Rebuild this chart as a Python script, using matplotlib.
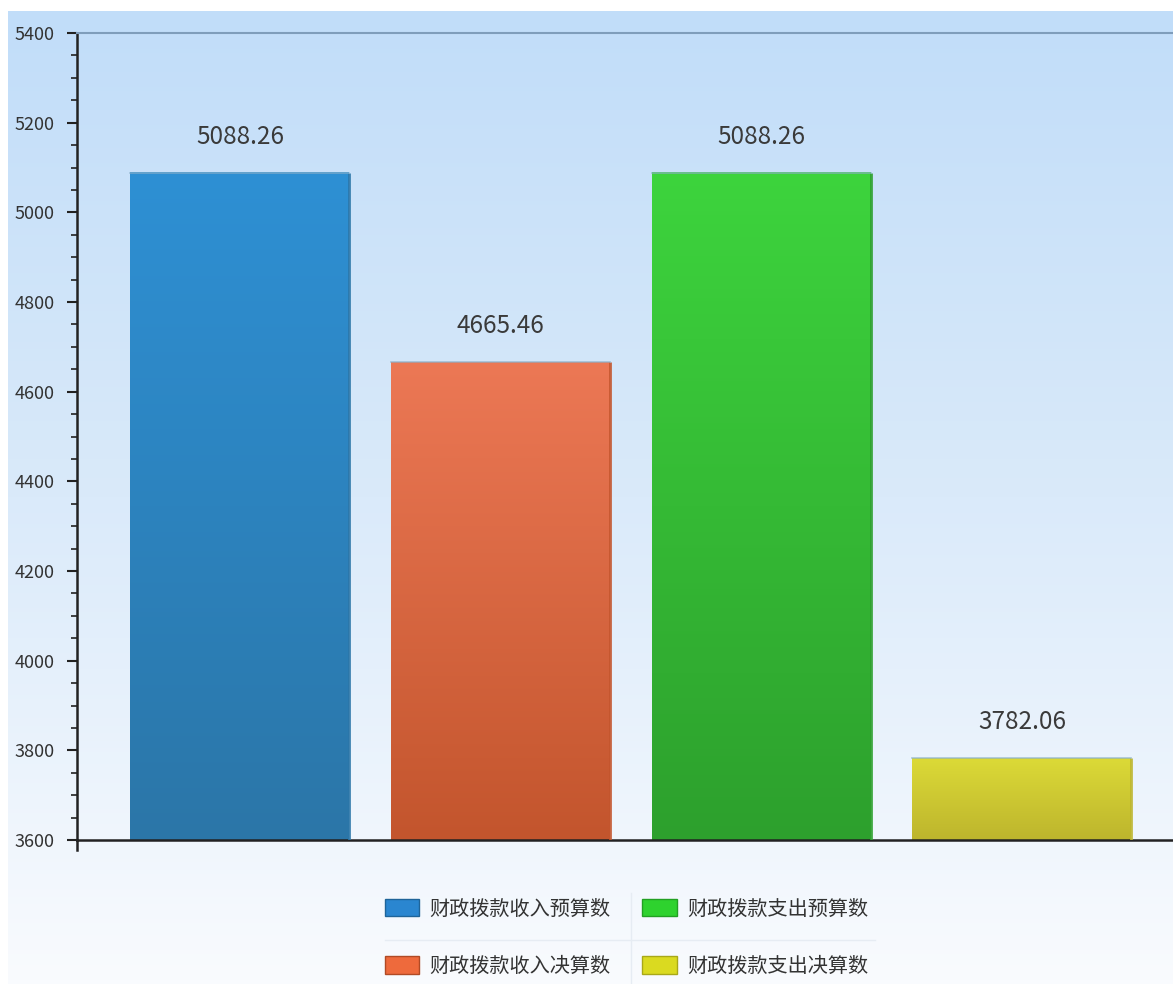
import numpy as np
import matplotlib
matplotlib.use('Agg')
import matplotlib.pyplot as plt
from matplotlib.colors import LinearSegmentedColormap
from matplotlib.patches import Patch
from matplotlib.lines import Line2D
from matplotlib.ticker import MultipleLocator

plt.rcParams['font.family'] = ['Noto Sans CJK SC', 'DejaVu Sans']

# data
labels = ['财政拨款收入预算数', '财政拨款收入决算数', '财政拨款支出预算数', '财政拨款支出决算数']
values = [5088.26, 4665.46, 5088.26, 3782.06]
value_text = ['5088.26', '4665.46', '5088.26', '3782.06']

# colours (top, bottom) for the bar gradients, and legend swatches
bar_top = ['#2E90D4', '#EC7855', '#3DD43D', '#DCDA37']
bar_bottom = ['#2B76A8', '#C3552D', '#2DA02D', '#BDB52D']
swatch = ['#2A86D0', '#EE6A3C', '#2ED22E', '#DADA20']
swatch_edge = ['#1F6499', '#B04A25', '#22A022', '#A8A818']

W, H = 1173, 984
fig = plt.figure(figsize=(W / 100, H / 100), dpi=100)
fig.patch.set_facecolor('white')

# background gradient panel
bg = fig.add_axes([8 / W, 0, 1 - 8 / W, 1 - 11 / H], zorder=0)
bg_cmap = LinearSegmentedColormap.from_list('bg', ['#C1DDF9', '#DAEAFA', '#F9FBFE'])
bg.imshow(np.linspace(0, 1, 256).reshape(-1, 1), aspect='auto', cmap=bg_cmap,
          extent=[0, 1, 0, 1], origin='upper')
bg.set_axis_off()

ax = fig.add_axes([77 / W, 1 - 840 / H, 1 - 77 / W, (840 - 33) / H], zorder=1)
ax.set_facecolor('none')

x = np.arange(len(values))
bars = ax.bar(x, np.array(values) - 3600, bottom=3600, width=0.84,
              color='none', edgecolor='none', zorder=2)

# gradient fill inside each bar
for i, b in enumerate(bars):
    x0, y0 = b.get_x(), b.get_y()
    w, h = b.get_width(), b.get_height()
    cm = LinearSegmentedColormap.from_list('b%d' % i, [bar_top[i], bar_bottom[i]])
    ax.imshow(np.linspace(0, 1, 256).reshape(-1, 1), aspect='auto', cmap=cm,
              extent=[x0, x0 + w, y0, y0 + h], origin='upper', zorder=2)
    # darker right edge and light top edge
    ax.plot([x0 + w, x0 + w], [y0, y0 + h], color=bar_bottom[i], lw=2,
            alpha=0.9, zorder=3, solid_capstyle='butt')
    ax.plot([x0, x0 + w], [y0 + h, y0 + h], color='#8AAFC8', lw=1.2,
            alpha=0.7, zorder=3)
    ax.annotate(value_text[i], (x0 + w / 2, y0 + h), xytext=(0, 26),
                textcoords='offset points', ha='center', va='center',
                fontsize=17.5, color='#3A3A3A', zorder=4)

ax.set_xlim(-0.625, 3.58)
ax.set_ylim(3600, 5400)
ax.set_aspect('auto')

ax.yaxis.set_major_locator(MultipleLocator(200))
ax.yaxis.set_minor_locator(MultipleLocator(50))
ax.tick_params(axis='y', which='major', length=7, width=1.5, color='#222222',
               labelsize=13, labelcolor='#333333', pad=9)
ax.tick_params(axis='y', which='minor', length=4, width=1.2, color='#222222')
ax.set_xticks([])

ax.spines['right'].set_visible(False)
ax.spines['left'].set_color('#222222')
ax.spines['left'].set_linewidth(1.8)
ax.spines['bottom'].set_color('#222222')
ax.spines['bottom'].set_linewidth(1.8)
ax.spines['top'].set_color('#7F9DBB')
ax.spines['top'].set_linewidth(1.5)

# left axis line continues a little below the baseline
ax.add_line(Line2D([0, 0], [-0.012, 0], transform=ax.transAxes, color='#222222',
                   lw=1.8, clip_on=False))

handles = [Patch(facecolor=swatch[i], edgecolor=swatch_edge[i], linewidth=1,
                 label=labels[i]) for i in range(len(labels))]
leg = fig.legend(handles=handles, ncol=2, loc='center',
                 bbox_to_anchor=(0.534, 0.047), frameon=False,
                 fontsize=14.5, labelspacing=1.8, columnspacing=1.6,
                 handlelength=1.7, handleheight=0.95, handletextpad=0.5)
for t in leg.get_texts():
    t.set_color('#333333')

# faint grid lines in the legend block
fig.add_artist(Line2D([385 / W, 875 / W], [1 - 940 / H, 1 - 940 / H],
                      color='#E6ECF3', lw=1))
fig.add_artist(Line2D([631 / W, 631 / W], [1 - 893 / H, 0],
                      color='#E6ECF3', lw=1))

plt.savefig('out.png', dpi=100)
